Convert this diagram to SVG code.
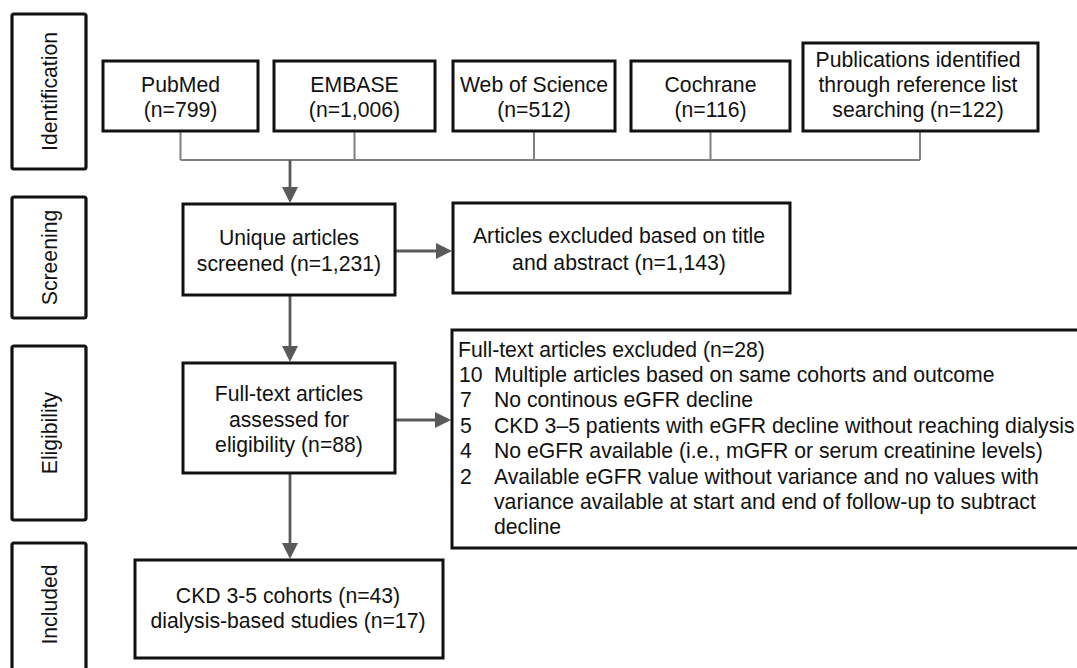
<svg xmlns="http://www.w3.org/2000/svg" width="1077" height="668" viewBox="0 0 1077 668">
<defs>
<style>
.bx{fill:#fff;stroke:#111;stroke-width:3}
.lb{fill:#fff;stroke:#111;stroke-width:3.2}
text{font-family:"Liberation Sans",Arial,sans-serif;font-size:21.2px;fill:#111}
.c{text-anchor:middle}
.mg{fill:none;stroke:#808080;stroke-width:2}
.ar{fill:none;stroke:#5a5a5a;stroke-width:2.8}
</style>
<marker id="ah" markerUnits="userSpaceOnUse" markerWidth="16" markerHeight="16" viewBox="0 0 16 16" refX="1" refY="8" orient="auto">
<path d="M0,0 L16,8 L0,16 z" fill="#5a5a5a"/>
</marker>
</defs>
<rect width="1077" height="668" fill="#fff"/>

<g id="stage-identification">
<rect class="lb" x="12" y="14" width="74" height="155" rx="2"/>
<text class="c" transform="translate(57,91.5) rotate(-90)">Identification</text>
</g>
<g id="stage-screening">
<rect class="lb" x="12" y="197" width="74" height="121" rx="2"/>
<text class="c" transform="translate(57,257.5) rotate(-90)">Screening</text>
</g>
<g id="stage-eligibility">
<rect class="lb" x="12" y="346" width="74" height="174" rx="2"/>
<text class="c" transform="translate(57,433) rotate(-90)">Eligibility</text>
</g>
<g id="stage-included">
<rect class="lb" x="12" y="543" width="74" height="130" rx="2"/>
<text class="c" transform="translate(57,604.5) rotate(-90)">Included</text>
</g>

<g id="connectors">
<path class="mg" d="M180.5,131 V160 M354.5,131 V160 M534,131 V160 M710.5,131 V160 M920,131 V160 M180.5,160 H920"/>
<line class="ar" x1="290" y1="160" x2="290" y2="188" marker-end="url(#ah)"/>
<line class="ar" x1="290" y1="295" x2="290" y2="347" marker-end="url(#ah)"/>
<line class="ar" x1="290" y1="473" x2="290" y2="544" marker-end="url(#ah)"/>
<line class="ar" x1="395" y1="251" x2="437" y2="251" marker-end="url(#ah)"/>
<line class="ar" x1="395" y1="420" x2="436" y2="420" marker-end="url(#ah)"/>
</g>

<g id="pubmed">
<rect class="bx" x="103" y="61" width="155" height="70"/>
<text class="c" x="180.5" y="92">PubMed</text>
<text class="c" x="180.5" y="117">(n=799)</text>
</g>
<g id="embase">
<rect class="bx" x="274" y="61" width="161" height="70"/>
<text class="c" x="354.5" y="92">EMBASE</text>
<text class="c" x="354.5" y="117">(n=1,006)</text>
</g>
<g id="wos">
<rect class="bx" x="453" y="61" width="162" height="70"/>
<text class="c" x="534" y="92">Web of Science</text>
<text class="c" x="534" y="117">(n=512)</text>
</g>
<g id="cochrane">
<rect class="bx" x="631" y="61" width="159" height="70"/>
<text class="c" x="710.5" y="92">Cochrane</text>
<text class="c" x="710.5" y="117">(n=116)</text>
</g>
<g id="reflist">
<rect class="bx" x="803" y="43" width="235" height="88"/>
<text class="c" x="918" y="67">Publications identified</text>
<text class="c" x="918" y="92">through reference list</text>
<text class="c" x="918" y="117">searching (n=122)</text>
</g>

<g id="screened">
<rect class="bx" x="183" y="204" width="212" height="91"/>
<text class="c" x="289" y="245">Unique articles</text>
<text class="c" x="289" y="271">screened (n=1,231)</text>
</g>
<g id="excluded-title">
<rect class="bx" x="453" y="203" width="337" height="90"/>
<text class="c" x="619" y="243">Articles excluded based on title</text>
<text class="c" x="619" y="270">and abstract (n=1,143)</text>
</g>

<g id="fulltext">
<rect class="bx" x="183" y="363" width="212" height="110"/>
<text class="c" x="289" y="401">Full-text articles</text>
<text class="c" x="289" y="427">assessed for</text>
<text class="c" x="289" y="452">eligibility (n=88)</text>
</g>
<g id="excluded-fulltext">
<rect class="bx" x="452" y="330" width="640" height="218"/>
<text x="458" y="357">Full-text articles excluded (n=28)</text>
<text x="459" y="382">10</text><text x="494" y="382">Multiple articles based on same cohorts and outcome</text>
<text x="460" y="407">7</text><text x="494" y="407">No continous eGFR decline</text>
<text x="460" y="433">5</text><text x="494" y="433">CKD 3–5 patients with eGFR decline without reaching dialysis</text>
<text x="460" y="458">4</text><text x="494" y="458">No eGFR available (i.e., mGFR or serum creatinine levels)</text>
<text x="460" y="484">2</text><text x="494" y="484">Available eGFR value without variance and no values with</text>
<text x="494" y="509">variance available at start and end of follow-up to subtract</text>
<text x="494" y="534">decline</text>
</g>

<g id="included">
<rect class="bx" x="135" y="560" width="308" height="98"/>
<text class="c" x="288" y="603">CKD 3-5 cohorts (n=43)</text>
<text class="c" x="288" y="628">dialysis-based studies (n=17)</text>
</g>
</svg>
